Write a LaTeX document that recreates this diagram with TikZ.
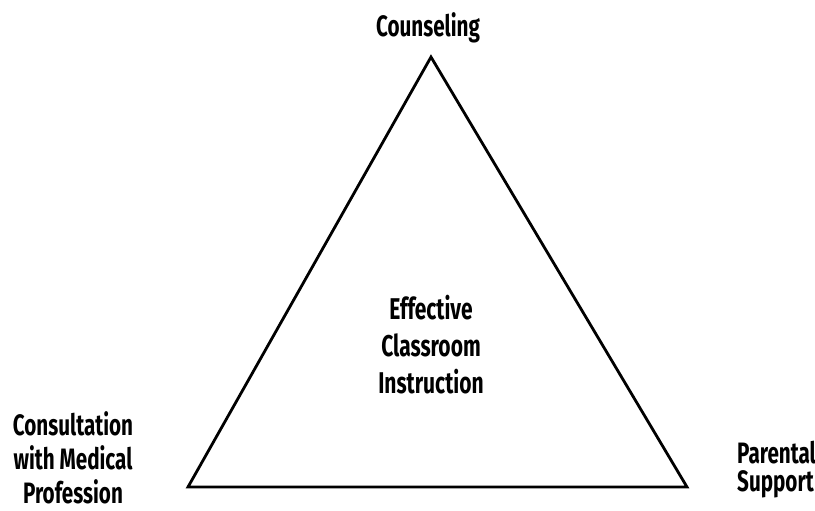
\documentclass[tikz,border=0pt]{standalone}
\usepackage{fontspec}
\setmainfont{Fira Sans}[FakeStretch=0.70]
\begin{document}
\begin{tikzpicture}[x=1pt,y=-1pt,
  lbl/.style={font=\fontsize{29.5}{35}\selectfont\bfseries, align=center, inner sep=0pt, text=black},
  edge/.style={draw=black, line width=2.8pt, line join=miter}]
\useasboundingbox[fill=white] (0,0) rectangle (815,511);
% corners of the triangle
\coordinate (top) at (431,57);
\coordinate (left) at (188,487);
\coordinate (right) at (687,487);
\draw[edge] (top) -- (left) -- (right) -- cycle;
% labels
\node[lbl, anchor=base] (counsel) at (428,37) {Counseling};
\node[lbl, font=\fontsize{30}{37}\selectfont\bfseries] (center) at (431,345) {Effective\\Classroom\\Instruction};
\node[lbl, font=\fontsize{29.5}{34}\selectfont\bfseries] (medical) at (73,458) {Consultation\\with Medical\\Profession};
\node[lbl, font=\fontsize{29.5}{28}\selectfont\bfseries, align=left, anchor=west] (parent) at (737,470) {Parental\\Support};
\end{tikzpicture}
\end{document}
